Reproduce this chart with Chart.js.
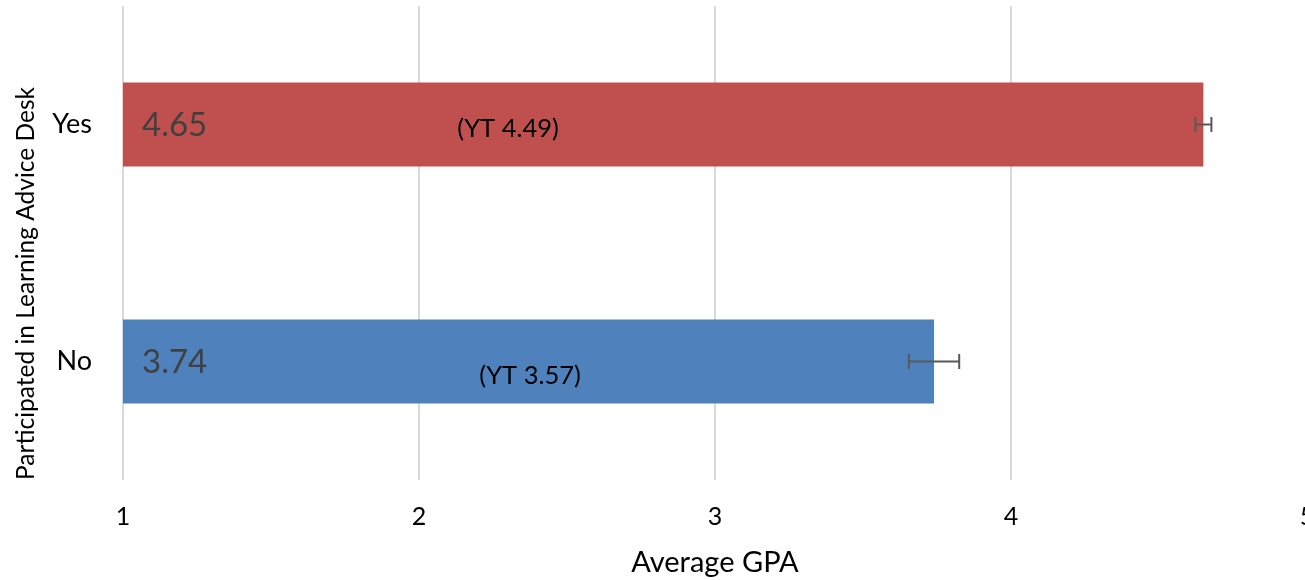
<!DOCTYPE html>
<html lang="en">
<head>
  <meta charset="utf-8">
  <title>Average GPA</title>
  <script src="https://cdn.jsdelivr.net/npm/chart.js@4/dist/chart.umd.min.js"></script>
  <style>
    html, body { margin: 0; padding: 0; background: #fff; overflow: hidden; }
    body { width: 1305px; height: 580px; }
    /* wider than the window on purpose: the "5" tick sits on the cut edge */
    .chart-area { position: relative; width: 1325px; height: 580px; }
  </style>
</head>
<body>
  <div class="chart-area">
    <canvas id="gpa-chart"></canvas>
  </div>
<script>
  const categories = ['Yes', 'No'];
  const gpaValues = [4.65, 3.74];
  const errorValues = [0.027, 0.085];
  const ytValues = [4.49, 3.57];
  const barColors = ['#C0504D', '#4F81BD'];
  const xTicks = [1, 2, 3, 4, 5];

  const FONT = 'Lato, "Open Sans", sans-serif';

  // value label, YT label and error bar on every bar
  const barExtras = {
    id: 'barExtras',
    afterDatasetsDraw(chart, args, opts) {
      const ctx = chart.ctx;
      const xScale = chart.scales.x;
      const base = xScale.getPixelForValue(xScale.min);
      const meta = chart.getDatasetMeta(0);
      ctx.save();
      meta.data.forEach(function (bar, i) {
        // error bar
        const x1 = xScale.getPixelForValue(gpaValues[i] - errorValues[i]);
        const x2 = xScale.getPixelForValue(gpaValues[i] + errorValues[i]);
        ctx.strokeStyle = '#595959';
        ctx.lineWidth = 2;
        ctx.beginPath();
        ctx.moveTo(x1, bar.y); ctx.lineTo(x2, bar.y);
        ctx.moveTo(x1, bar.y - 7.5); ctx.lineTo(x1, bar.y + 7.5);
        ctx.moveTo(x2, bar.y - 7.5); ctx.lineTo(x2, bar.y + 7.5);
        ctx.stroke();

        // big value label
        ctx.fillStyle = '#404040';
        ctx.font = '33px ' + FONT;
        ctx.textAlign = 'left';
        ctx.textBaseline = 'middle';
        ctx.fillText(gpaValues[i].toFixed(2), base + 19, bar.y + 1);

        // YT label
        const pos = opts.ytPos[i];
        ctx.fillStyle = '#000';
        ctx.font = '25.5px ' + FONT;
        ctx.textAlign = 'center';
        ctx.fillText('(YT ' + ytValues[i].toFixed(2) + ')', base + pos.dx, bar.y + pos.dy);
      });
      ctx.restore();
    }
  };

  const chartData = {
    labels: categories,
    datasets: [{
      label: 'Average GPA',
      data: gpaValues,
      backgroundColor: barColors,
      borderWidth: 0,
      categoryPercentage: 1,
      barPercentage: 0.355,
    }]
  };

  const barConfig = {
    type: 'bar',
    data: chartData,
    plugins: [barExtras],
    options: {
      indexAxis: 'y',
      responsive: true,
      maintainAspectRatio: false,
      animation: false,
      layout: { padding: { top: 6, right: 18, left: 0, bottom: 0 } },
      plugins: {
        legend: { display: false },
        tooltip: { enabled: false },
        barExtras: { ytPos: [{ dx: 385, dy: 4 }, { dx: 407, dy: 14 }] },
      },
      scales: {
        x: {
          type: 'linear',
          min: xTicks[0],
          max: xTicks[xTicks.length - 1],
          afterBuildTicks: function (scale) {
            scale.ticks = xTicks.map(function (v) { return { value: v }; });
          },
          afterFit: function (scale) {
            scale.height = 100;
            scale.paddingLeft = 0;
            scale.paddingRight = 0;
          },
          grid: { color: '#D9D9D9', lineWidth: 2, drawTicks: false },
          border: { display: false },
          ticks: { color: '#000', padding: 22, font: { family: FONT, size: 25 } },
          title: {
            display: true,
            text: 'Average GPA',
            color: '#000',
            font: { family: FONT, size: 29 },
            padding: { top: 0, bottom: 0 },
          },
        },
        y: {
          afterFit: function (scale) {
            scale.width = 123;
            scale.paddingTop = 0;
            scale.paddingBottom = 0;
          },
          grid: { display: false, drawTicks: false },
          border: { display: false },
          ticks: { color: '#000', padding: 31, font: { family: FONT, size: 27 } },
          title: {
            display: true,
            text: 'Participated in Learning Advice Desk',
            align: 'start',
            color: '#000',
            font: { family: FONT, size: 24.5 },
            padding: { top: 11, bottom: 0 },
          },
        }
      }
    }
  };

  new Chart(document.getElementById('gpa-chart').getContext('2d'), barConfig);
</script>
</body>
</html>
